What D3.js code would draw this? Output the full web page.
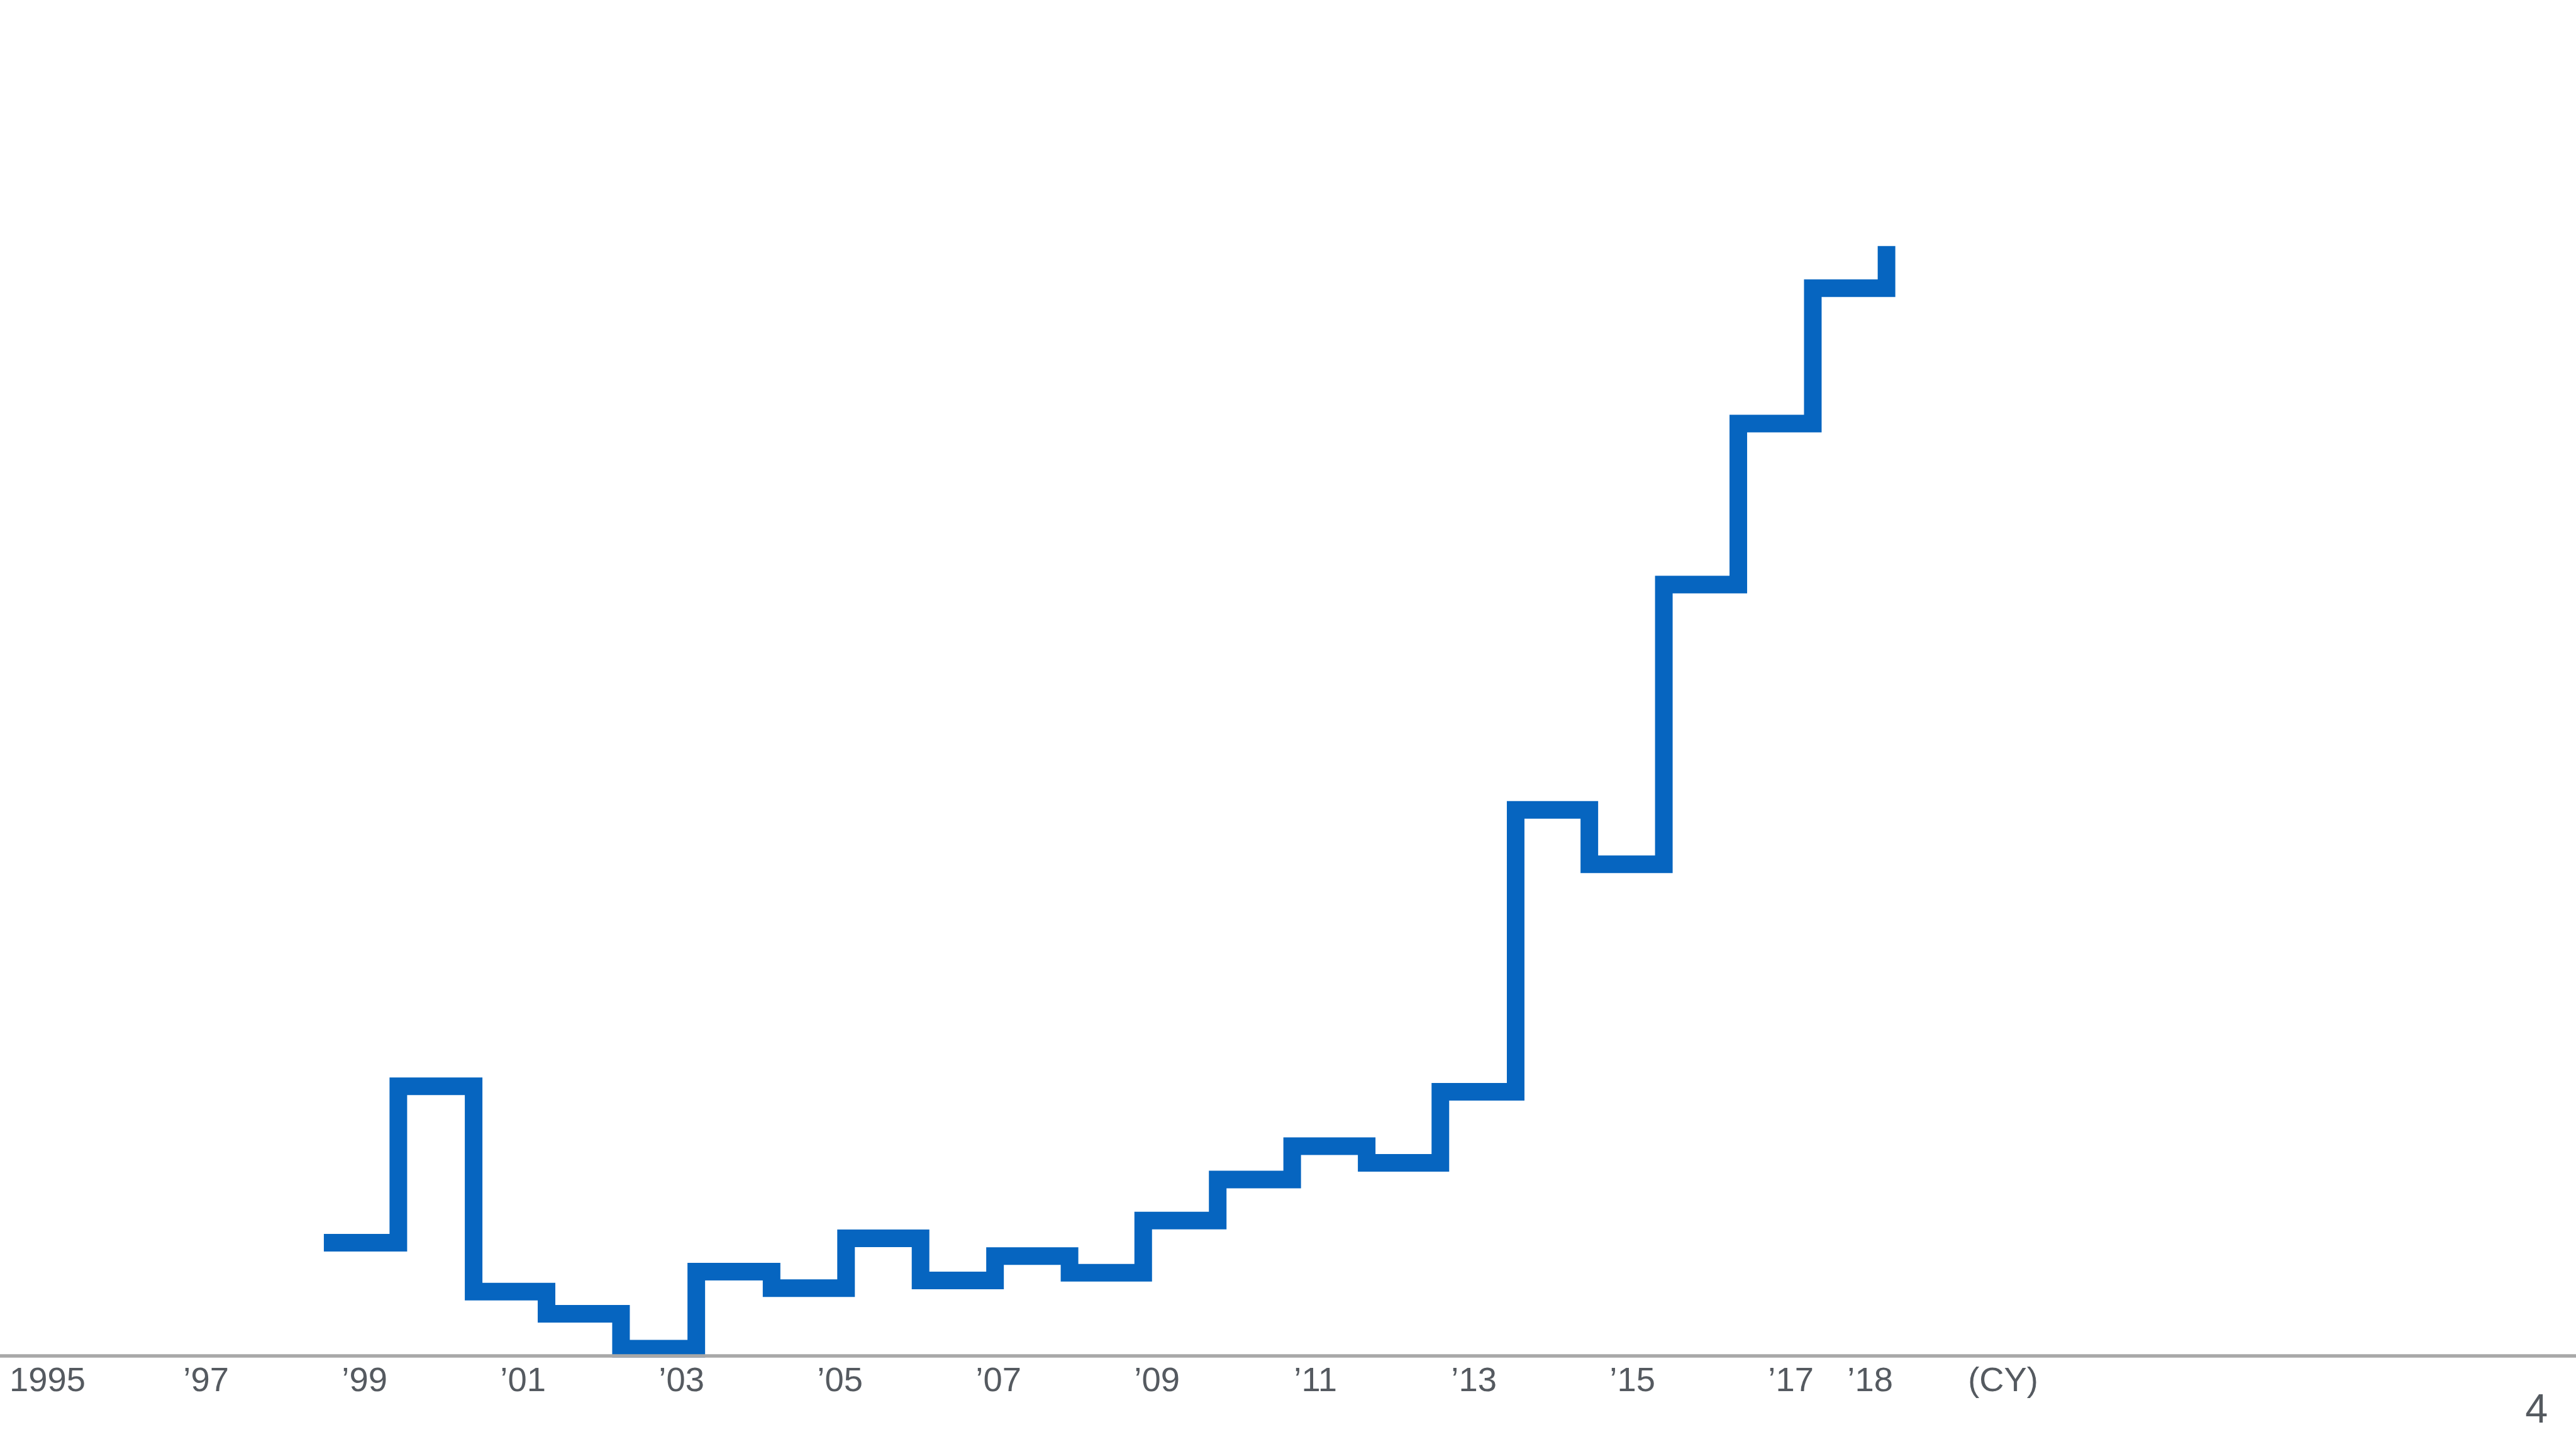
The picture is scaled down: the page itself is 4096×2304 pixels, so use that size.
<!DOCTYPE html>
<html>
<head>
<meta charset="utf-8">
<script src="https://cdn.jsdelivr.net/npm/d3@7"></script>
<style>
  html, body { margin: 0; padding: 0; background: #ffffff; }
  svg { display: block; }
</style>
</head>
<body>
<div id="chart"></div>
<script>
// step boundaries (calendar years) and the level of each step
const stepYears = [1998.49, 1999.43, 2000.38, 2001.30, 2002.24, 2003.19, 2004.14, 2005.08,
  2006.02, 2006.96, 2007.90, 2008.83, 2009.77, 2010.71, 2011.65, 2012.58,
  2013.53, 2014.46, 2015.40, 2016.34, 2017.28, 2018.21];
const stepValues = [10.2, 24.3, 5.8, 3.8, 0.65, 7.6, 6.1, 10.6,
  6.8, 9.0, 7.5, 12.2, 15.9, 18.9, 17.4, 23.8,
  49.2, 44.3, 69.5, 84.0, 96.2, 100];

const tickYears = [1995, 1997, 1999, 2001, 2003, 2005, 2007, 2009, 2011, 2013, 2015, 2017, 2018];
const unitLabel = "(CY)";
const pageNumber = "4";

// drawn in the reference's 5120x2880 space, shown at 0.8
const W = 5120, H = 2880;
const baseY = 2695;
const BLUE = "#0665c0";
const GREY_TEXT = "#555a60";
const GREY_AXIS = "#a8a8a8";
const FONT = "'Liberation Sans', Arial, sans-serif";

const svg = d3.select("#chart").append("svg")
  .attr("width", 4096).attr("height", 2304)
  .attr("viewBox", `0 0 ${W} ${H}`);

const x = d3.scaleLinear().domain([1995, 2018]).range([94, 3716.5]);
const y = d3.scaleLinear().domain([0, 100]).range([baseY, 489]);

// step line
const data = stepYears.map((yr, i) => ({ yr, v: stepValues[i] }));
svg.append("path").datum(data)
  .attr("fill", "none")
  .attr("stroke", BLUE)
  .attr("stroke-width", 35)
  .attr("stroke-linejoin", "miter")
  .attr("stroke-linecap", "butt")
  .attr("d", d3.line().curve(d3.curveStepAfter).x(d => x(d.yr)).y(d => y(d.v)));

// baseline across the whole page, over the line
svg.append("line")
  .attr("x1", 0).attr("x2", W)
  .attr("y1", baseY).attr("y2", baseY)
  .attr("stroke", GREY_AXIS).attr("stroke-width", 7);

// year labels
const axis = svg.append("g")
  .attr("transform", `translate(0,${baseY})`)
  .call(d3.axisBottom(x).tickValues(tickYears).tickSize(0).tickPadding(22)
    .tickFormat(d => d === 1995 ? "1995" : "\u2019" + String(d).slice(2)));
axis.select(".domain").remove();
axis.selectAll("text")
  .attr("font-family", FONT).attr("font-size", 68).attr("fill", GREY_TEXT);

svg.append("text")
  .attr("x", x(2018) + 195).attr("y", 2765)
  .attr("font-family", FONT).attr("font-size", 68).attr("fill", GREY_TEXT)
  .text(unitLabel);

// page number
svg.append("text")
  .attr("x", 5064).attr("y", 2827)
  .attr("text-anchor", "end")
  .attr("font-family", FONT).attr("font-size", 81).attr("fill", GREY_TEXT)
  .text(pageNumber);
</script>
</body>
</html>
